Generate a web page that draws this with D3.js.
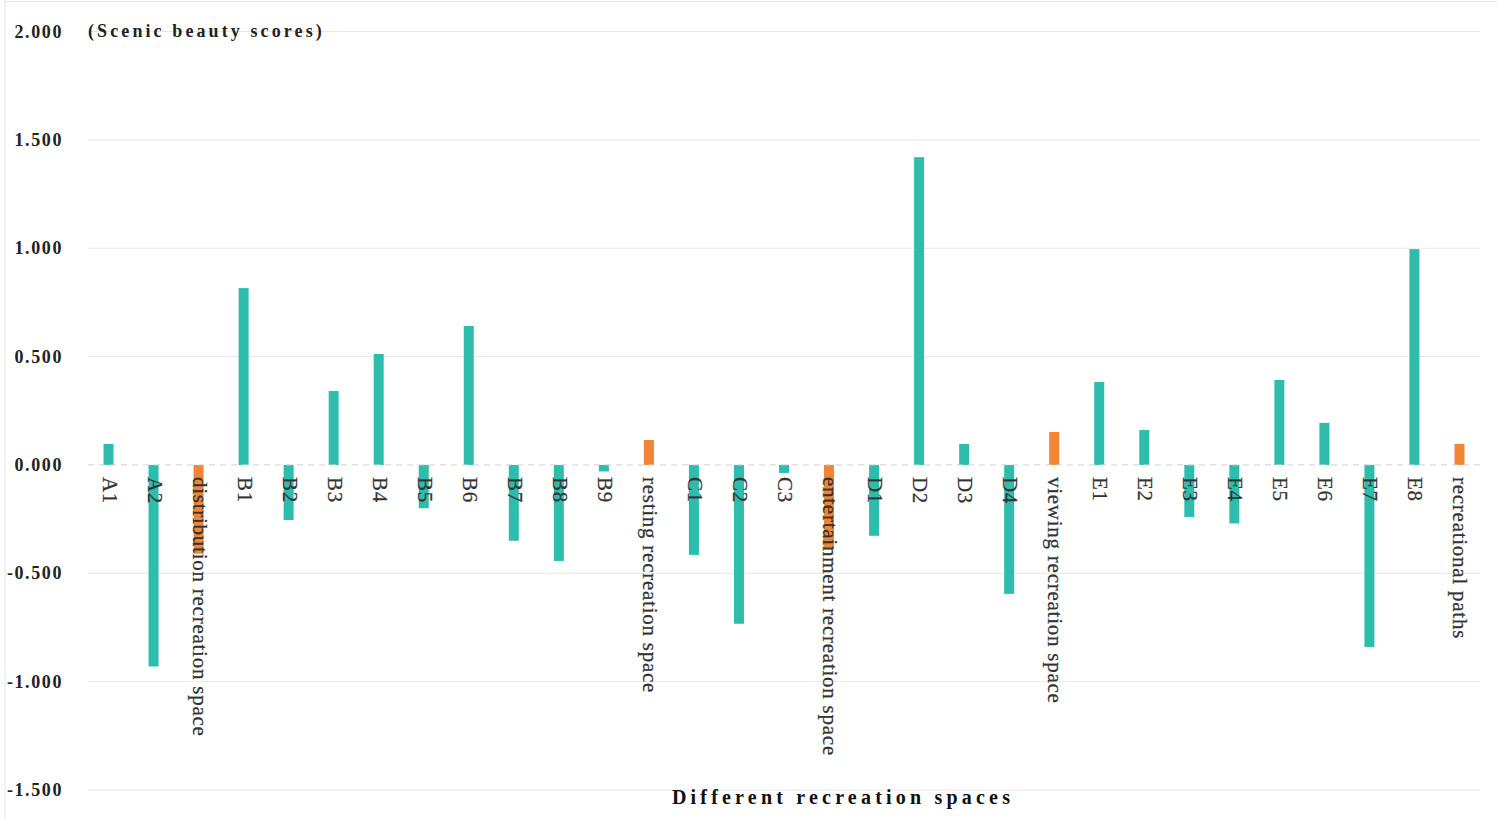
<!DOCTYPE html>
<html>
<head>
<meta charset="utf-8">
<script src="https://cdn.jsdelivr.net/npm/d3@7"></script>
<style>
  body { margin: 0; background: #fff; }
  text { font-family: "Liberation Serif", "Times New Roman", serif; }
</style>
</head>
<body>
<div id="chart"></div>
<script>
const categories = [
  "A1", "A2", "distribution recreation space",
  "B1", "B2", "B3", "B4", "B5", "B6", "B7", "B8", "B9", "resting recreation space",
  "C1", "C2", "C3", "entertainment recreation space",
  "D1", "D2", "D3", "D4", "viewing recreation space",
  "E1", "E2", "E3", "E4", "E5", "E6", "E7", "E8", "recreational paths"
];
const scores = [
  0.097, -0.930, -0.410,
  0.816, -0.254, 0.341, 0.512, -0.200, 0.641, -0.350, -0.443, -0.030, 0.115,
  -0.415, -0.733, -0.037, -0.390,
  -0.327, 1.420, 0.097, -0.595, 0.152,
  0.383, 0.161, -0.240, -0.270, 0.392, 0.194, -0.840, 0.996, 0.097
];
const groupTotals = ["distribution recreation space", "resting recreation space",
  "entertainment recreation space", "viewing recreation space", "recreational paths"];
const yTicks = [-1.5, -1.0, -0.5, 0, 0.5, 1.0, 1.5, 2.0];

const width = 1497;
const height = 819;

const svg = d3.select("#chart")
  .append("svg")
  .attr("width", width)
  .attr("height", height);

// frame
svg.append("line").attr("x1", 5).attr("x2", 5).attr("y1", 0).attr("y2", height)
  .attr("stroke", "#e4e4e4");
svg.append("line").attr("x1", 5).attr("x2", width).attr("y1", 1.5).attr("y2", 1.5)
  .attr("stroke", "#e4e4e4");

const x = d3.scaleBand()
  .domain(categories)
  .range([86, 1482]);

const y = d3.scaleLinear()
  .domain([-1.5, 2])
  .range([790, 31.5]);

// gridlines
svg.append("g")
  .selectAll("line")
  .data(yTicks.filter(d => d !== 0))
  .join("line")
  .attr("x1", 88)
  .attr("x2", 1480)
  .attr("y1", d => y(d))
  .attr("y2", d => y(d))
  .attr("stroke", "#e6e6e6");

// y labels
const fmt = d => d3.format(".3f")(d).replace("\u2212", "-");
svg.append("g")
  .selectAll("text")
  .data(yTicks)
  .join("text")
  .attr("x", 63)
  .attr("y", d => y(d) + 6)
  .attr("text-anchor", "end")
  .attr("font-size", 18)
  .attr("font-weight", "bold")
  .attr("letter-spacing", 1.6)
  .attr("fill", "#222")
  .text(fmt);

// bars
const barW = 10;
svg.append("g")
  .selectAll("rect")
  .data(categories)
  .join("rect")
  .attr("x", d => x(d) + x.bandwidth() / 2 - barW / 2)
  .attr("y", (d, i) => y(Math.max(0, scores[i])))
  .attr("width", barW)
  .attr("height", (d, i) => Math.abs(y(scores[i]) - y(0)))
  .attr("fill", d => groupTotals.includes(d) ? "#ef8535" : "#2ebdad");

// zero line
svg.append("line")
  .attr("x1", 88)
  .attr("x2", 1480)
  .attr("y1", y(0))
  .attr("y2", y(0))
  .attr("stroke", "#d0d0d0")
  .attr("stroke-dasharray", "6,5");

// category labels
svg.append("g")
  .selectAll("text")
  .data(categories)
  .join("text")
  .attr("transform", d => `translate(${x(d) + x.bandwidth() / 2 - 6}, ${y(0) + 12}) rotate(90)`)
  .attr("font-size", 21)
  .attr("letter-spacing", 0.75)
  .attr("fill", "#333")
  .attr("stroke", "#333")
  .attr("stroke-width", 0.25)
  .text(d => d);

// titles
svg.append("text")
  .attr("x", 88)
  .attr("y", 37)
  .attr("font-size", 18)
  .attr("font-weight", "bold")
  .attr("letter-spacing", 3.1)
  .attr("fill", "#222")
  .text("(Scenic beauty scores)");

svg.append("text")
  .attr("x", 843)
  .attr("y", 804)
  .attr("text-anchor", "middle")
  .attr("font-size", 20)
  .attr("font-weight", "bold")
  .attr("letter-spacing", 4.2)
  .attr("fill", "#111")
  .text("Different recreation spaces");
</script>
</body>
</html>
